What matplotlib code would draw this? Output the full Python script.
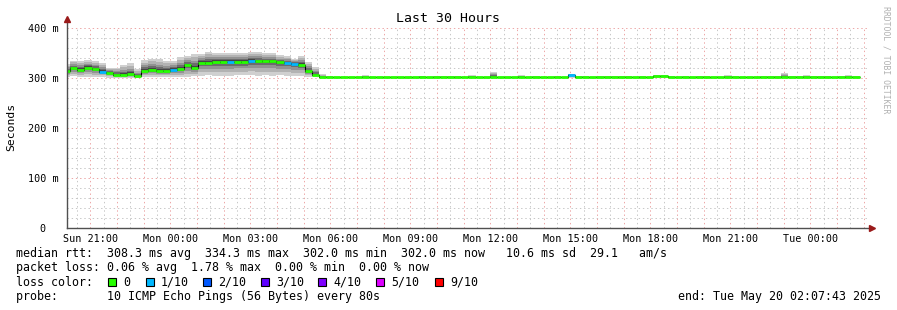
import numpy as np
import matplotlib
matplotlib.use("Agg")
import matplotlib.pyplot as plt
from matplotlib.patches import Rectangle

# time in hours relative to Sun 21:00
t_start = -0.872
t_end = 29.128
first_bin = -1.0167
bin_hours = 16 / 60

tick_hours = [0, 3, 6, 9, 12, 15, 18, 21, 24, 27]
tick_labels = ['Sun 21:00', 'Mon 00:00', 'Mon 03:00', 'Mon 06:00', 'Mon 09:00',
               'Mon 12:00', 'Mon 15:00', 'Mon 18:00', 'Mon 21:00', 'Tue 00:00']

# median rtt per 16 min bin (ms)
median_ms = [
    315, 320, 317, 321, 318, 313, 311, 307, 307, 308, 304, 315, 317, 315, 315, 317,
    318, 326, 321, 331, 331, 333, 333, 333, 333, 333, 335, 334, 334, 334, 332, 331,
    329, 327, 314, 306, 302, 302, 302, 302, 302, 302, 302, 302, 302, 302, 302, 302,
    302, 302, 302, 302, 302, 302, 302, 302, 302, 302, 302, 302, 302, 302, 302, 302,
    302, 302, 302, 302, 302, 302, 302, 306, 302, 302, 302, 302, 302, 302, 302, 302,
    302, 302, 302, 304, 304, 302, 302, 302, 302, 302, 302, 302, 302, 302, 302, 302,
    302, 302, 302, 302, 302, 302, 302, 302, 302, 302, 302, 302, 302, 302, 302, 302,
]
# slowest ping per bin (ms)
smoke_hi = [
    328, 335, 335, 337, 335, 331, 321, 321, 326, 330, 318, 336, 339, 338, 335, 335,
    343, 345, 349, 348, 353, 350, 350, 350, 350, 351, 353, 353, 350, 350, 346, 344,
    339, 344, 333, 323, 308, 304, 303, 303, 303, 303, 306, 303, 303, 303, 303, 303,
    303, 303, 305, 303, 304, 304, 304, 304, 303, 306, 303, 303, 313, 303, 303, 303,
    306, 303, 304, 303, 303, 304, 303, 309, 304, 304, 303, 304, 304, 304, 304, 304,
    303, 304, 303, 306, 306, 304, 303, 304, 303, 304, 304, 303, 303, 306, 304, 303,
    303, 303, 304, 304, 304, 310, 304, 304, 306, 304, 304, 304, 303, 304, 306, 304,
]
# fastest ping per bin (ms)
smoke_lo = [
    303, 305, 303, 303, 303, 303, 301, 301, 301, 301, 301, 303, 303, 303, 303, 303,
    303, 303, 305, 305, 306, 305, 305, 305, 306, 306, 306, 305, 306, 305, 306, 305,
    305, 305, 303, 303, 301, 301, 301, 301, 301, 301, 301, 301, 301, 301, 301, 301,
    301, 301, 301, 301, 301, 301, 301, 301, 301, 301, 301, 301, 301, 301, 301, 301,
    301, 301, 301, 301, 301, 301, 301, 301, 301, 301, 301, 301, 301, 301, 301, 301,
    301, 301, 301, 301, 301, 301, 301, 301, 301, 301, 301, 301, 301, 301, 301, 301,
    301, 301, 301, 301, 301, 301, 301, 301, 301, 301, 301, 301, 301, 301, 301, 301,
]
# bins that lost 1 of 10 pings
loss_1_bins = [5, 15, 23, 26, 31, 32, 71]

loss_names = ['0', '1/10', '2/10', '3/10', '4/10', '5/10', '9/10']
loss_colors = ['#26ff00', '#00b8ff', '#0059ff', '#5e00ff', '#7e00ff', '#dd00ff', '#ff0000']

W, H = 897, 310
fig = plt.figure(figsize=(W / 100, H / 100), dpi=100)
fig.patch.set_facecolor('white')
ax = fig.add_axes([67 / W, 82 / H, 800 / W, 200 / H])
mono = 'DejaVu Sans Mono'

def px(x, y):
    return x / W, 1 - y / H

med = np.array(median_ms, dtype=float)
hi = np.array(smoke_hi, dtype=float)
lo = np.array(smoke_lo, dtype=float)
edges = first_bin + bin_hours * np.arange(len(med) + 1)

# grid
dot = (0, (1.4, 2.8))
for h in np.arange(-0.5, 29.5, 0.5):
    if h % 1 != 0:
        ax.axvline(h, color='#c8c8c8', lw=0.72, ls=dot, zorder=0)
for h in range(0, 30):
    ax.axvline(h, color='#eda8a8', lw=0.72, ls=dot, zorder=0.5)
for v in range(20, 400, 20):
    if v % 100 != 0:
        ax.axhline(v, color='#c8c8c8', lw=0.72, ls=dot, zorder=0)
for v in [100, 200, 300, 400]:
    ax.axhline(v, color='#eda8a8', lw=0.72, ls=dot, zorder=0.5)

# smoke
shades = [(1.0, '#d0d0d0'), (0.75, '#b2b2b2'), (0.5, '#929292'), (0.3, '#6c6c6c'), (0.14, '#444444')]
for f, c in shades:
    ax.stairs(med + f * (hi - med), edges, baseline=med - f * (med - lo),
              fill=True, color=c, lw=0, zorder=1)

# median line
ax.stairs(med, edges, baseline=None, color='black', lw=0.8, zorder=2)
cols = [loss_colors[1] if i in loss_1_bins else loss_colors[0] for i in range(len(med))]
ax.hlines(med, edges[:-1], edges[1:], colors=cols, lw=2.0, zorder=3, capstyle='butt')

ax.set_xlim(t_start, t_end)
ax.set_ylim(0, 400)
for s in ax.spines.values():
    s.set_visible(False)
ax.set_facecolor('white')

# axes with arrows
axis_col = '#505050'
arrow_col = '#9a1a1a'
ax.plot([0, 0], [0, 1.045], color=axis_col, lw=1, transform=ax.transAxes, clip_on=False, zorder=4)
ax.plot([0, 1.006], [0, 0], color=axis_col, lw=1, transform=ax.transAxes, clip_on=False, zorder=4)
ax.plot([0], [1.045], marker='^', ms=4, color=arrow_col, transform=ax.transAxes, clip_on=False, zorder=5)
ax.plot([1.006], [0], marker='>', ms=4, color=arrow_col, transform=ax.transAxes, clip_on=False, zorder=5)

ax.set_xticks(tick_hours)
ax.set_xticklabels(tick_labels, fontfamily=mono, fontsize=7.3)
ax.set_yticks([0, 100, 200, 300, 400])
ax.set_yticklabels(['0  ', '100 m', '200 m', '300 m', '400 m'], fontfamily=mono, fontsize=7.3)
ax.tick_params(axis='x', length=0, pad=4)
ax.tick_params(axis='y', length=0, pad=6)

fig.text(*px(448, 19), 'Last 30 Hours', ha='center', va='center', fontfamily=mono, fontsize=9.5)
fig.text(*px(11, 127), 'Seconds', rotation=90, ha='center', va='center', fontfamily=mono, fontsize=8.2)
fig.text(*px(886, 60), 'RRDTOOL / TOBI OETIKER', rotation=270, ha='center', va='center',
         fontfamily=mono, fontsize=5.9, color='#b0b0b0')

lf = 8.4
fig.text(*px(16, 254), 'median rtt:  308.3 ms avg  334.3 ms max  302.0 ms min  302.0 ms now   10.6 ms sd  29.1   am/s',
         va='center', fontfamily=mono, fontsize=lf)
fig.text(*px(16, 268), 'packet loss: 0.06 % avg  1.78 % max  0.00 % min  0.00 % now',
         va='center', fontfamily=mono, fontsize=lf)
fig.text(*px(16, 282), 'loss color:', va='center', fontfamily=mono, fontsize=lf)
sq_x = [108, 146, 203, 261, 318, 376, 435]
for x, name, c in zip(sq_x, loss_names, loss_colors):
    fx, fy = px(x, 286)
    fig.add_artist(Rectangle((fx, fy), 8 / W, 8 / H, transform=fig.transFigure,
                             facecolor=c, edgecolor='black', lw=0.8))
    fig.text(*px(x + 15, 282), name, va='center', fontfamily=mono, fontsize=lf)
fig.text(*px(16, 296.5), 'probe:       10 ICMP Echo Pings (56 Bytes) every 80s',
         va='center', fontfamily=mono, fontsize=lf)
fig.text(*px(881, 296.5), 'end: Tue May 20 02:07:43 2025', ha='right', va='center',
         fontfamily=mono, fontsize=lf)

fig.savefig('out.png', dpi=100, facecolor='white')
